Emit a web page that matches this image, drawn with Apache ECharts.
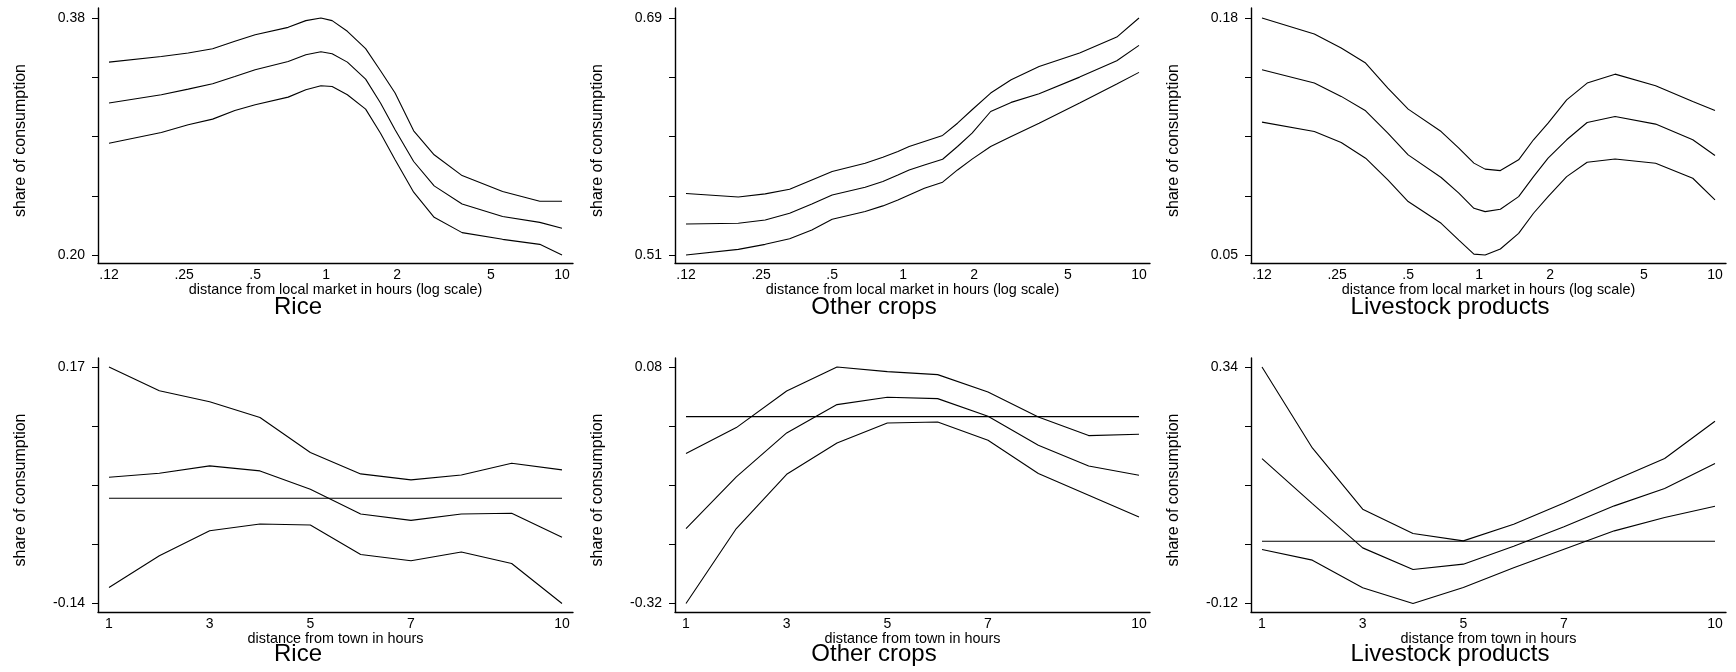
<!DOCTYPE html>
<html><head><meta charset="utf-8">
<script src="https://cdn.jsdelivr.net/npm/echarts@6/dist/echarts.min.js"></script>
<style>html,body{margin:0;padding:0;background:#fff}#c{width:1736px;height:672px}</style>
</head><body><div id="c"></div>
<script>
const FONT = '"Liberation Sans", Arial, Helvetica, sans-serif';

// ---- x grids and tick labels ----
const marketHours = [0.12, 0.20, 0.26, 0.33, 0.41, 0.50, 0.69, 0.82, 0.95, 1.06, 1.23, 1.47, 1.70, 1.96, 2.35, 2.87, 3.77, 5.6, 8.05, 10];
const townHours = [1, 2, 3, 4, 5, 6, 7, 8, 9, 10];
const marketTicks = [0.12, 0.25, 0.5, 1, 2, 5, 10];
const marketTickLabels = ['.12', '.25', '.5', '1', '2', '5', '10'];
const townTicks = [1, 3, 5, 7, 10];
const panelTitles = ['Rice', 'Other crops', 'Livestock products'];
const yTitle = 'share of consumption';
const xTitleMarket = 'distance from local market in hours (log scale)';
const xTitleTown = 'distance from town in hours';

// ---- top row: distance from local market ----
const riceMarketUpper = [0.3465, 0.3508, 0.3534, 0.3567, 0.3623, 0.3673, 0.3729, 0.3780, 0.3800, 0.3780, 0.3699, 0.3567, 0.3399, 0.3230, 0.2943, 0.2761, 0.2603, 0.2482, 0.2408, 0.2408];
const riceMarketMid   = [0.3154, 0.3217, 0.3260, 0.3301, 0.3356, 0.3407, 0.3470, 0.3521, 0.3544, 0.3529, 0.3465, 0.3336, 0.3154, 0.2951, 0.2710, 0.2525, 0.2388, 0.2292, 0.2248, 0.2203];
const riceMarketLower = [0.2849, 0.2930, 0.2989, 0.3032, 0.3098, 0.3141, 0.3199, 0.3255, 0.3285, 0.3280, 0.3217, 0.3108, 0.2925, 0.2723, 0.2477, 0.2286, 0.2170, 0.2119, 0.2081, 0.2000];
const riceMarketRange = [0.20, 0.38];

const cropsMarketUpper = [0.5567, 0.5541, 0.5564, 0.5599, 0.5670, 0.5734, 0.5797, 0.5843, 0.5886, 0.5924, 0.5962, 0.6008, 0.6101, 0.6203, 0.6330, 0.6431, 0.6532, 0.6634, 0.6755, 0.6900];
const cropsMarketMid   = [0.5336, 0.5341, 0.5366, 0.5417, 0.5488, 0.5556, 0.5615, 0.5658, 0.5708, 0.5746, 0.5784, 0.5827, 0.5924, 0.6025, 0.6190, 0.6259, 0.6324, 0.6451, 0.6575, 0.6692];
const cropsMarketLower = [0.5100, 0.5143, 0.5181, 0.5224, 0.5290, 0.5371, 0.5430, 0.5473, 0.5518, 0.5556, 0.5607, 0.5653, 0.5746, 0.5828, 0.5924, 0.6000, 0.6101, 0.6254, 0.6398, 0.6487];
const cropsMarketRange = [0.51, 0.69];

const liveMarketUpper = [0.1800, 0.1712, 0.1635, 0.1553, 0.1415, 0.1300, 0.1177, 0.1086, 0.1004, 0.0971, 0.0963, 0.1022, 0.1132, 0.1223, 0.1351, 0.1443, 0.1492, 0.1428, 0.1342, 0.1293];
const liveMarketMid   = [0.1516, 0.1443, 0.1370, 0.1291, 0.1168, 0.1049, 0.0925, 0.0839, 0.0756, 0.0738, 0.0751, 0.0820, 0.0930, 0.1031, 0.1132, 0.1227, 0.1260, 0.1218, 0.1132, 0.1046];
const liveMarketLower = [0.1229, 0.1177, 0.1117, 0.1031, 0.0912, 0.0793, 0.0674, 0.0582, 0.0505, 0.0500, 0.0533, 0.0619, 0.0729, 0.0820, 0.0930, 0.1009, 0.1027, 0.1003, 0.0921, 0.0802];
const liveMarketRange = [0.05, 0.18];

// ---- bottom row: distance from town ----
const riceTownUpper = [0.1721, 0.1410, 0.1265, 0.1060, 0.0600, 0.0320, 0.0241, 0.0306, 0.0460, 0.0372];
const riceTownMid   = [0.0276, 0.0328, 0.0425, 0.0359, 0.0118, -0.0206, -0.0289, -0.0206, -0.0197, -0.0512];
const riceTownLower = [-0.1169, -0.0753, -0.0425, -0.0337, -0.0350, -0.0736, -0.0819, -0.0705, -0.0854, -0.1379];
const riceTownRange = [-0.1379, 0.1721];

const cropsTownUpper = [-0.0625, -0.0186, 0.0434, 0.0839, 0.0761, 0.0710, 0.0417, -0.0006, -0.0321, -0.0299];
const cropsTownMid   = [-0.1893, -0.1020, -0.0276, 0.0203, 0.0327, 0.0304, 0.0006, -0.0484, -0.0834, -0.0992];
const cropsTownLower = [-0.3161, -0.1893, -0.0975, -0.0445, -0.0107, -0.0090, -0.0400, -0.0963, -0.1330, -0.1696];
const cropsTownRange = [-0.3161, 0.0839];

const liveTownUpper = [0.3388, 0.1814, 0.0622, 0.0149, 0.0006, 0.0330, 0.0745, 0.1186, 0.1607, 0.2332];
const liveTownMid   = [0.1607, 0.0732, -0.0130, -0.0551, -0.0447, -0.0097, 0.0279, 0.0687, 0.1024, 0.1510];
const liveTownLower = [-0.0162, -0.0369, -0.0907, -0.1212, -0.0901, -0.0518, -0.0155, 0.0201, 0.0460, 0.0680];
const liveTownRange = [-0.1212, 0.3388];

const zeroLine = [0, 0];

// ---- layout ----
const colLeft = [98, 675, 1251];
const gridW = 475;
const rowTop = [8, 358];
const gridH = [255, 254];
const titleX = [298, 874, 1450];
const titleY = [295, 642];
const xInset = 11;
const yPadTop = [10, 9];
const yPadBot = [8, 8.5];

const panels = [
  { row: 0, col: 0, log: true, range: riceMarketRange, lines: [riceMarketUpper, riceMarketMid, riceMarketLower], zero: false },
  { row: 0, col: 1, log: true, range: cropsMarketRange, lines: [cropsMarketUpper, cropsMarketMid, cropsMarketLower], zero: false },
  { row: 0, col: 2, log: true, range: liveMarketRange, lines: [liveMarketUpper, liveMarketMid, liveMarketLower], zero: false },
  { row: 1, col: 0, log: false, range: riceTownRange, lines: [riceTownUpper, riceTownMid, riceTownLower], zero: true },
  { row: 1, col: 1, log: false, range: cropsTownRange, lines: [cropsTownUpper, cropsTownMid, cropsTownLower], zero: true },
  { row: 1, col: 2, log: false, range: liveTownRange, lines: [liveTownUpper, liveTownMid, liveTownLower], zero: true }
];

const grids = [], xAxes = [], yAxes = [], series = [], graphics = [];
const txt = (size) => ({ fontSize: size, color: '#000', fontFamily: FONT });

panels.forEach((p, i) => {
  const H = gridH[p.row];
  grids.push({ left: colLeft[p.col], top: rowTop[p.row], width: gridW, height: H });

  const xs = p.log ? marketHours.map(Math.log) : townHours;
  const xLo = p.log ? Math.log(marketTicks[0]) : townTicks[0];
  const xHi = p.log ? Math.log(marketTicks[marketTicks.length - 1]) : townTicks[townTicks.length - 1];
  const padX = xInset / (gridW - 2 * xInset) * (xHi - xLo);
  const tickVals = p.log ? marketTicks.map(Math.log) : townTicks;

  xAxes.push({
    gridIndex: i, type: 'value', min: xLo - padX, max: xHi + padX,
    axisLine: { show: true, onZero: false, lineStyle: { color: '#000', width: 1.4 } },
    axisTick: { show: false },
    splitLine: { show: false },
    axisLabel: {
      customValues: tickVals, margin: 5, ...txt(14),
      formatter: (v) => {
        if (p.log) {
          const k = marketTicks.findIndex(t => Math.abs(Math.log(t) - v) < 1e-6);
          return k >= 0 ? marketTickLabels[k] : '';
        }
        return String(Math.round(v));
      }
    },
    name: p.log ? xTitleMarket : xTitleTown,
    nameLocation: 'middle', nameGap: 11, nameTextStyle: txt(14.4)
  });

  const [lo, hi] = p.range;
  const spanPx = H - yPadTop[p.row] - yPadBot[p.row];
  const sc = (hi - lo) / spanPx;
  const yTicks = [0, 1, 2, 3, 4].map(k => lo + k * (hi - lo) / 4);
  yAxes.push({
    gridIndex: i, type: 'value', min: lo - yPadBot[p.row] * sc, max: hi + yPadTop[p.row] * sc,
    axisLine: { show: true, onZero: false, lineStyle: { color: '#000', width: 1.4 } },
    axisTick: { show: true, length: 6, customValues: yTicks, lineStyle: { color: '#000', width: 1 } },
    splitLine: { show: false },
    axisLabel: { customValues: [lo, hi], margin: 13, ...txt(14), formatter: (v) => v.toFixed(2) },
    name: yTitle, nameLocation: 'middle', nameGap: 69,
    nameTextStyle: { ...txt(16), padding: [0, 10, 0, 0] }
  });

  p.lines.forEach((arr) => {
    series.push({
      type: 'line', xAxisIndex: i, yAxisIndex: i, symbol: 'none', silent: true,
      lineStyle: { color: '#000', width: 1.1 },
      data: xs.map((x, k) => [x, arr[k]])
    });
  });
  if (p.zero) {
    series.push({
      type: 'line', xAxisIndex: i, yAxisIndex: i, symbol: 'none', silent: true,
      lineStyle: { color: '#000', width: 1.1 },
      data: [[townHours[0], zeroLine[0]], [townHours[townHours.length - 1], zeroLine[1]]]
    });
  }

  graphics.push({
    type: 'text', x: titleX[p.col], y: titleY[p.row], silent: true,
    style: { text: panelTitles[p.col], align: 'center', verticalAlign: 'top', ...txt(24), fill: '#000' }
  });
});

const chart = echarts.init(document.getElementById('c'), null, { renderer: 'canvas' });
chart.setOption({
  backgroundColor: '#fff',
  animation: false,
  grid: grids, xAxis: xAxes, yAxis: yAxes, series: series,
  graphic: graphics
});
</script></body></html>
